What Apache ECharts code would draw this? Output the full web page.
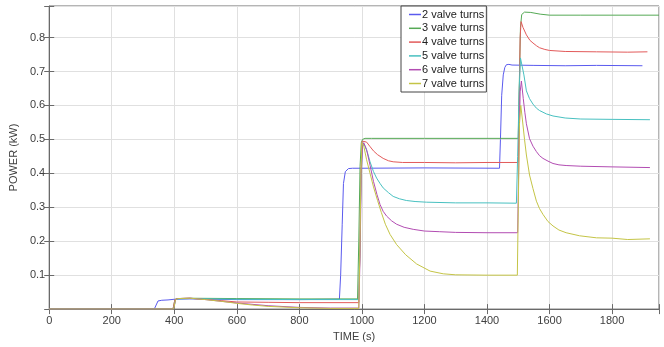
<!DOCTYPE html>
<html>
<head>
<meta charset="utf-8">
<script src="https://cdn.jsdelivr.net/npm/echarts@6/dist/echarts.min.js"></script>
<style>
html,body{margin:0;padding:0;background:#fff;}
#chart{width:664px;height:347px;}
</style>
</head>
<body>
<div id="chart"></div>
<script>
// Series names
const seriesNames = ['2 valve turns','3 valve turns','4 valve turns','5 valve turns','6 valve turns','7 valve turns'];

// 2 valve turns
const time2 = [0,336,342,348,360,380,400,450,600,800,928,932,937,941,947,957,970,1000,1200,1440,1443,1447,1452,1457,1462,1470,1480,1550,1650,1750,1897];
const power2 = [0,0,0.012,0.024,0.026,0.027,0.029,0.03,0.028,0.028,0.029,0.1,0.25,0.37,0.405,0.414,0.415,0.415,0.416,0.415,0.5,0.63,0.69,0.712,0.72,0.721,0.719,0.718,0.717,0.718,0.717];

// 3 valve turns
const time3 = [0,396,402,410,450,600,800,986,990,994,998,1002,1010,1030,1200,1500,1503,1507,1511,1520,1540,1570,1600,1700,1800,1950];
const power3 = [0,0,0.028,0.031,0.032,0.031,0.03,0.03,0.2,0.42,0.49,0.5,0.503,0.503,0.503,0.503,0.65,0.83,0.868,0.875,0.874,0.869,0.866,0.866,0.866,0.866];

// 4 valve turns
const time4 = [0,396,402,410,450,500,550,600,700,800,990,993,997,1001,1005,1015,1025,1037,1050,1068,1085,1100,1130,1200,1300,1400,1500,1503,1506,1509,1515,1526,1537,1547,1558,1568,1585,1600,1650,1750,1850,1913];
const power4 = [0,0,0.028,0.031,0.032,0.029,0.025,0.021,0.02,0.019,0.019,0.15,0.4,0.495,0.5,0.492,0.48,0.466,0.455,0.444,0.437,0.434,0.432,0.432,0.431,0.432,0.432,0.6,0.8,0.847,0.83,0.808,0.792,0.784,0.776,0.77,0.765,0.762,0.759,0.758,0.757,0.758];

// 5 valve turns
const time5 = [0,398,404,412,450,600,800,990,993,997,1001,1004,1010,1018,1026,1037,1047,1058,1068,1085,1100,1120,1142,1170,1206,1300,1400,1494,1498,1503,1507,1511,1518,1526,1536,1547,1558,1568,1590,1611,1650,1700,1800,1921];
const power5 = [0,0,0.028,0.03,0.031,0.029,0.028,0.028,0.15,0.38,0.47,0.49,0.48,0.46,0.434,0.405,0.386,0.37,0.357,0.343,0.332,0.325,0.32,0.317,0.315,0.313,0.313,0.312,0.45,0.65,0.74,0.745,0.69,0.643,0.62,0.604,0.592,0.585,0.575,0.569,0.563,0.56,0.559,0.558];

// 6 valve turns
const time6 = [0,398,404,412,450,500,600,700,800,900,990,994,998,1002,1006,1015,1026,1037,1048,1058,1068,1079,1095,1111,1135,1164,1200,1249,1300,1400,1498,1502,1506,1510,1516,1521,1526,1536,1547,1558,1568,1579,1595,1611,1630,1653,1700,1800,1921];
const power6 = [0,0,0.028,0.031,0.032,0.028,0.018,0.01,0.005,0.003,0.003,0.15,0.4,0.48,0.49,0.47,0.424,0.376,0.338,0.308,0.288,0.274,0.26,0.25,0.241,0.235,0.23,0.228,0.226,0.225,0.225,0.45,0.64,0.672,0.62,0.58,0.546,0.502,0.48,0.464,0.452,0.444,0.436,0.429,0.425,0.423,0.421,0.419,0.417];

// 7 valve turns
const time7 = [0,398,404,412,450,500,550,600,650,700,800,900,990,993,997,1000,1006,1015,1026,1037,1050,1062,1075,1090,1111,1140,1175,1218,1260,1300,1400,1497,1500,1504,1508,1513,1520,1526,1536,1547,1558,1568,1579,1595,1611,1630,1653,1696,1750,1800,1850,1921];
const power7 = [0,0,0.028,0.031,0.032,0.028,0.023,0.017,0.012,0.008,0.004,0.002,0.002,0.15,0.4,0.49,0.48,0.44,0.4,0.36,0.32,0.285,0.25,0.22,0.19,0.16,0.133,0.112,0.104,0.101,0.1,0.1,0.3,0.55,0.6,0.56,0.5,0.454,0.395,0.355,0.318,0.296,0.279,0.258,0.245,0.233,0.225,0.216,0.21,0.209,0.205,0.207];

const seriesColors = ['#5a5aee','#55a955','#e25a5a','#48c0c0','#b24cb2','#c4c446'];

const times = [time2,time3,time4,time5,time6,time7];
const powers = [power2,power3,power4,power5,power6,power7];

const FONT = 'Liberation Sans, Arial, sans-serif';
const TXT = '#404040';
const AX = '#6a6a6a';

function zip(t,p){ return t.map((x,i)=>[x,p[i]]); }

const xFmt = v => (Math.abs(v % 200) < 1e-6 ? String(v) : '');
const yFmt = v => {
  const r = Math.round(v*10);
  if (r <= 0 || Math.abs(v*10 - r) > 1e-6) return '';
  return (r/10).toFixed(1);
};

const chart = echarts.init(document.getElementById('chart'), null, {renderer:'canvas'});
chart.setOption({
  animation:false,
  backgroundColor:'#fff',
  textStyle:{fontFamily:FONT},
  grid:{left:48,right:5,top:6,bottom:35,show:true,borderColor:AX,borderWidth:1,backgroundColor:'#fff'},
  legend:{
    data:seriesNames,
    orient:'vertical',
    left:401, top:6,
    padding:[3,2,3,8],
    itemGap:2.8,
    itemWidth:12, itemHeight:1.5,
    icon:'rect',
    backgroundColor:'#fff',
    borderColor:'#444', borderWidth:1, borderRadius:0,
    textStyle:{fontFamily:FONT,fontSize:11,color:'#222',padding:[0,0,0,-4]}
  },
  xAxis:[{
    type:'value', min:0, max:1950, interval:200,
    name:'TIME (s)', nameLocation:'middle', nameGap:19,
    nameTextStyle:{fontFamily:FONT,fontSize:11,color:TXT},
    axisLine:{show:true,lineStyle:{color:AX}},
    axisTick:{show:true,inside:true,length:5,lineStyle:{color:AX}},
    axisLabel:{formatter:xFmt,fontFamily:FONT,fontSize:11,color:TXT,margin:6},
    splitLine:{show:true,lineStyle:{color:'#e0e0e0',width:1}}
  },{
    type:'value', min:0, max:1950, interval:200, position:'top',
    axisLine:{show:false},
    axisTick:{show:true,inside:true,length:5,lineStyle:{color:AX}},
    axisLabel:{show:false}, splitLine:{show:false}
  }],
  yAxis:[{
    type:'value', min:0, max:0.893, interval:0.1,
    name:'POWER (kW)', nameLocation:'middle', nameGap:22,
    nameTextStyle:{fontFamily:FONT,fontSize:11,color:TXT},
    axisLine:{show:true,lineStyle:{color:AX}},
    axisTick:{show:true,inside:true,length:5,lineStyle:{color:AX}},
    axisLabel:{formatter:yFmt,fontFamily:FONT,fontSize:11,color:TXT,margin:4},
    splitLine:{show:true,lineStyle:{color:'#e0e0e0',width:1}}
  },{
    type:'value', min:0, max:0.893, interval:0.1, position:'right',
    axisLine:{show:false},
    axisTick:{show:true,inside:true,length:5,lineStyle:{color:AX}},
    axisLabel:{show:false}, splitLine:{show:false}
  }],
  series: seriesNames.map((n,i)=>({
    name:n, type:'line', data:zip(times[i],powers[i]),
    xAxisIndex:0, yAxisIndex:0,
    showSymbol:false, symbol:'none',
    lineStyle:{width:1,color:seriesColors[i]},
    itemStyle:{color:seriesColors[i]},
    z:2+i
  }))
});
</script>
</body>
</html>
